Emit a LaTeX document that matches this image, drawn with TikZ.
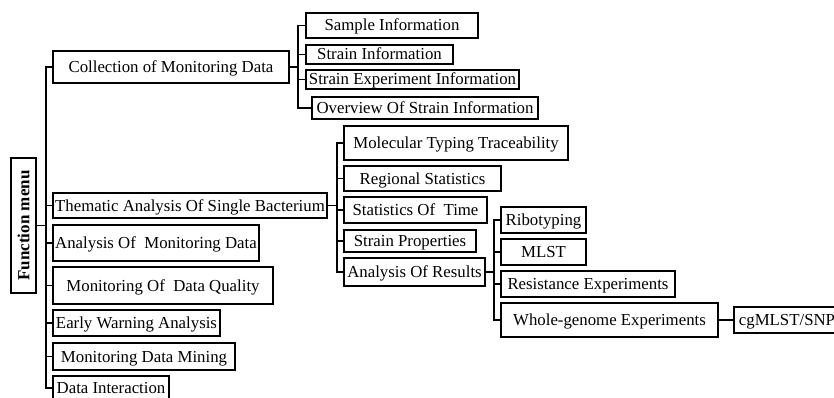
\documentclass[tikz,border=0pt]{standalone}
\usepackage{fontspec}
\setmainfont{Liberation Serif}
\begin{document}
\begin{tikzpicture}[x=1pt,y=-1pt,
  box/.style={draw=black,line width=1.8pt,inner sep=0pt,fill=white,
    font=\fontsize{16.8}{18}\selectfont,text height=12pt,text depth=1pt},
  link/.style={draw=black,line width=1.8pt}]
\useasboundingbox (0,0) rectangle (834,398);
\clip (0,0) rectangle (834,398);
% root
\node[box,minimum width=25pt,minimum height=135pt] (fm) at (23.5,225.5) {};
\node[rotate=90,font=\fontsize{17}{18}\selectfont\bfseries] (fmt) at (fm.center) {Function menu};
% level 1
\node[box,minimum width=236pt,minimum height=32pt] (coll) at (171,67) {Collection of Monitoring Data};
\node[box,minimum width=274pt,minimum height=25pt] (them) at (190,205.5) {Thematic Analysis Of Single Bacterium};
\node[box,minimum width=206pt,minimum height=36pt] (anam) at (156,243) {Analysis Of\ \ Monitoring Data};
\node[box,minimum width=220pt,minimum height=37pt] (mdq) at (163,285.5) {Monitoring Of\ \ Data Quality};
\node[box,minimum width=167pt,minimum height=26pt] (ewa) at (136.5,323) {Early Warning Analysis};
\node[box,minimum width=182pt,minimum height=27pt] (mdm) at (144,356.5) {Monitoring Data Mining};
\node[box,minimum width=116pt,minimum height=24pt] (di) at (111,388) {Data Interaction};
% collection children
\node[box,minimum width=172pt,minimum height=25pt] (si) at (392,25.5) {Sample Information};
\node[box,minimum width=147pt,minimum height=19pt] (sti) at (379.5,54.5) {Strain Information};
\node[box,minimum width=213pt,minimum height=19pt] (sei) at (412.5,79.5) {Strain Experiment Information};
\node[box,minimum width=226pt,minimum height=22pt] (osi) at (425,108) {Overview Of Strain Information};
% thematic children
\node[box,minimum width=224pt,minimum height=34pt] (mtt) at (456,143) {Molecular Typing Traceability};
\node[box,minimum width=157pt,minimum height=25pt] (rs) at (422.5,178.5) {Regional Statistics};
\node[box,minimum width=143pt,minimum height=26pt] (sot) at (415.5,210) {Statistics Of\ \ Time};
\node[box,minimum width=132pt,minimum height=22pt] (sp) at (410,241) {Strain Properties};
\node[box,minimum width=141pt,minimum height=28pt] (aor) at (414.5,272) {Analysis Of Results};
% analysis of results children
\node[box,minimum width=85pt,minimum height=26pt] (rib) at (543.5,220) {Ribotyping};
\node[box,minimum width=85pt,minimum height=26pt] (mlst) at (543.5,252) {MLST};
\node[box,minimum width=174pt,minimum height=26pt] (res) at (588,284) {Resistance Experiments};
\node[box,minimum width=217pt,minimum height=34pt] (wge) at (609.5,320) {Whole-genome Experiments};
\node[box,minimum width=106pt,minimum height=26pt] (cg) at (787,320) {cgMLST/SNP};
% connectors
\draw[link] (fm.east) -- ++(9,0) coordinate (b0);
\foreach \c in {coll,them,anam,mdq,ewa,mdm,di} \draw[link] (b0) |- (\c.west);
\draw[link] (coll.east) -- ++(8,0) coordinate (b1);
\foreach \c in {si,sti,sei,osi} \draw[link] (b1) |- (\c.west);
\draw[link] (them.east) -- ++(9,0) coordinate (b2);
\foreach \c in {mtt,rs,sot,sp,aor} \draw[link] (b2) |- (\c.west);
\draw[link] (aor.east) -- ++(8,0) coordinate (b3);
\foreach \c in {rib,mlst,res,wge} \draw[link] (b3) |- (\c.west);
\draw[link] (wge.east) -- (cg.west);
\end{tikzpicture}
\end{document}
